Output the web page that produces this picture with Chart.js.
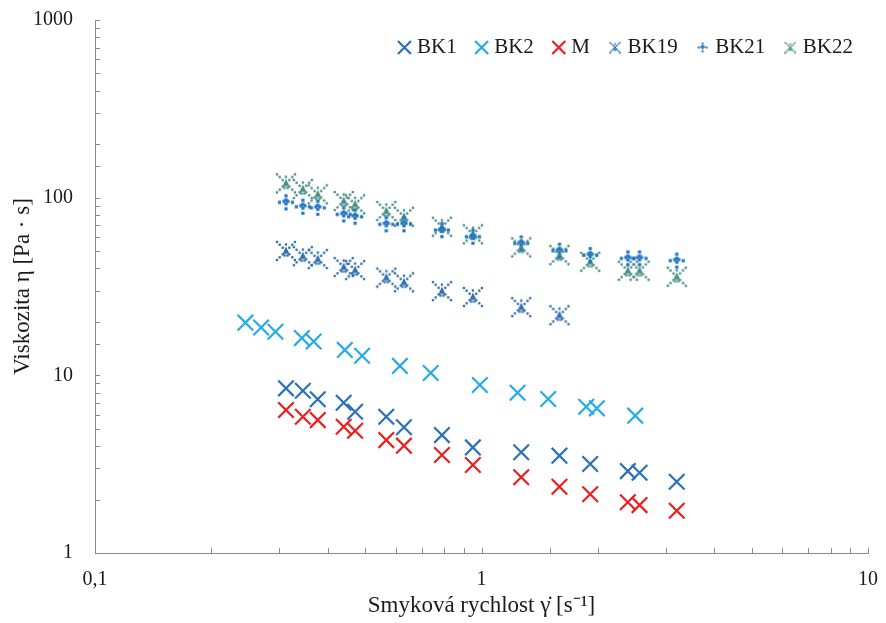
<!DOCTYPE html>
<html>
<head>
<meta charset="utf-8">
<script src="https://cdn.jsdelivr.net/npm/chart.js@4.4.1/dist/chart.umd.min.js"></script>
<style>
html, body { margin: 0; padding: 0; background: #fff; }
</style>
</head>
<body>
<canvas id="myChart" width="886" height="623"></canvas>
<script>
// shear rates [1/s]
var rate_a = [0.312, 0.345, 0.377, 0.44, 0.471, 0.567, 0.63, 0.79, 0.95, 1.267, 1.591, 1.911, 2.391, 2.564, 3.2];
var rate_b = [0.245, 0.269, 0.293, 0.343, 0.368, 0.443, 0.491, 0.615, 0.739, 0.99, 1.24, 1.488, 1.866, 1.988, 2.499];

// viscosity [Pa.s]
var bk1  = [8.45, 8.19, 7.33, 7.01, 6.24, 5.85, 5.10, 4.61, 3.93, 3.69, 3.53, 3.17, 2.89, 2.83, 2.52];
var bk2  = [19.8, 18.6, 17.6, 16.2, 15.5, 13.9, 12.9, 11.3, 10.3, 8.82, 7.98, 7.36, 6.66, 6.52, 5.93];
var m    = [6.38, 5.85, 5.60, 5.14, 4.88, 4.32, 4.02, 3.56, 3.13, 2.67, 2.36, 2.14, 1.93, 1.86, 1.73];
var bk19 = [50.1, 46.9, 45.1, 40.7, 39.1, 35.5, 33.4, 29.8, 27.6, 24.2, 21.8];
var bk21 = [94.1, 88.9, 87.7, 80.5, 78.1, 70.8, 70.8, 65.7, 60.3, 55.3, 50.3, 47.5, 45.5, 45.5, 44.2];
var bk22 = [120.4, 111.8, 104.4, 95.7, 91.7, 84.1, 78.1, 68.6, 62.2, 52.5, 47.5, 43.6, 38.8, 38.8, 35.9];

var series_names = ['BK1', 'BK2', 'M', 'BK19', 'BK21', 'BK22'];
var x_ticks = [0.1, 1, 10];
var y_ticks = [1, 10, 100, 1000];

var serif = "'Liberation Serif', 'Times New Roman', serif";

function pts(xs, ys) {
	return ys.map(function(v, i) { return {x: xs[i], y: v}; });
}

// dotted markers like the excel ones
function dotMarker(kind, color, s) {
	var c = document.createElement('canvas');
	var n = Math.round(22 * s);
	c.width = n; c.height = n;
	var g = c.getContext('2d');
	var h = n / 2;
	var r = Math.max(0.8, 1.15 * s);
	g.fillStyle = color;
	function dot(dx, dy, rr) {
		rr = rr || r;
		g.fillRect(h + dx * s - rr, h + dy * s - rr, 2 * rr, 2 * rr);
	}
	if (kind == 'x') {
		[3.3, 6.3, 9].forEach(function(d) {
			dot(d, d); dot(-d, d); dot(d, -d); dot(-d, -d);
		});
		dot(0, -6.5); dot(-1.5, 4.5); dot(1.5, 4.5);
		g.beginPath();
		g.moveTo(h, h - 4.5 * s);
		g.lineTo(h - 3.4 * s, h + 2.8 * s);
		g.lineTo(h + 3.4 * s, h + 2.8 * s);
		g.closePath();
		g.fill();
	} else {
		var rb = Math.max(1, 1.6 * s);
		dot(0, -6.5, rb); dot(0, 6.5, rb); dot(-6.5, 0, rb); dot(6.5, 0, rb);
		dot(-2, -1, rb); dot(2, -1, rb); dot(0, 1.5, rb); dot(0, -2.5, rb);
	}
	return c;
}

var c_bk1 = '#2a71b8', c_bk2 = '#25ace6', c_m = '#ee1d1d';
var c_bk19 = '#2f6fae', c_bk21 = '#2475c0', c_bk22 = '#468f82';

var big = {
	BK19: dotMarker('x', c_bk19, 1),
	BK21: dotMarker('+', c_bk21, 1),
	BK22: dotMarker('x', c_bk22, 1)
};
var small = {
	BK19: dotMarker('x', c_bk19, 0.55),
	BK21: dotMarker('+', c_bk21, 0.6),
	BK22: dotMarker('x', c_bk22, 0.55)
};

function crossSet(label, xs, ys, col) {
	return {
		label: label, data: pts(xs, ys),
		pointStyle: 'crossRot', pointRadius: 11, pointHoverRadius: 11,
		borderColor: col, backgroundColor: col, pointBorderWidth: 2.2, showLine: false
	};
}
function dotSet(label, xs, ys, col) {
	return {
		label: label, data: pts(xs, ys),
		pointStyle: big[label], pointRadius: 11, borderColor: col, backgroundColor: col, showLine: false
	};
}

// legend sits inside the plot, so keep it out of the layout
var legendInside = {
	id: 'legendInside',
	beforeInit: function(chart) {
		var lg = chart.legend;
		var fit = lg.fit;
		lg.fit = function() {
			fit.call(this);
			this._realH = this.height;
			this.height = 0;
		};
	},
	afterLayout: function(chart) {
		var lg = chart.legend;
		lg.top = 14;
		lg.height = lg._realH;
		lg.bottom = lg.top + lg._realH;
		lg.right = 876;
	}
};

// small tick marks pointing into the plot
var insideTicks = {
	id: 'insideTicks',
	afterDraw: function(chart) {
		var ctx = chart.ctx;
		var sx = chart.scales.x, sy = chart.scales.y;
		ctx.save();
		ctx.strokeStyle = '#8a8a8a';
		ctx.lineWidth = 1;
		ctx.beginPath();
		sx.ticks.forEach(function(t) {
			var p = Math.round(sx.getPixelForValue(t.value)) + 0.5;
			ctx.moveTo(p, sx.top);
			ctx.lineTo(p, sx.top - 5);
		});
		sy.ticks.forEach(function(t) {
			var p = Math.round(sy.getPixelForValue(t.value)) + 0.5;
			ctx.moveTo(sy.right, p);
			ctx.lineTo(sy.right + 5, p);
		});
		ctx.stroke();
		ctx.restore();
	}
};

function logLabel(v) {
	var all = x_ticks.concat(y_ticks);
	for (var i = 0; i < all.length; i++) {
		if (Math.abs(v - all[i]) < all[i] * 1e-6) return String(all[i]).replace('.', ',');
	}
	return '';
}

var ctx = document.getElementById('myChart');
var chart = new Chart(ctx, {
	type: 'scatter',
	data: {
		datasets: [
			crossSet('BK1', rate_a, bk1, c_bk1),
			crossSet('BK2', rate_b, bk2, c_bk2),
			crossSet('M', rate_a, m, c_m),
			dotSet('BK19', rate_a, bk19, c_bk19),
			dotSet('BK21', rate_a, bk21, c_bk21),
			dotSet('BK22', rate_a, bk22, c_bk22)
		]
	},
	options: {
		responsive: false,
		animation: false,
		layout: { padding: { left: 0, right: 18, top: 20, bottom: 0 } },
		plugins: {
			tooltip: { enabled: false },
			legend: {
				position: 'top',
				align: 'end',
				labels: {
					usePointStyle: true,
					boxWidth: 4,
					boxHeight: 13,
					padding: 23,
					color: '#1a1a1a',
					font: { family: serif, size: 21 },
					generateLabels: function(chart) {
						var items = Chart.defaults.plugins.legend.labels.generateLabels(chart);
						items.forEach(function(it) {
							if (small[it.text]) it.pointStyle = small[it.text];
							it.lineWidth = 2.2;
						});
						return items;
					}
				}
			}
		},
		scales: {
			x: {
				type: 'logarithmic',
				min: 0.1, max: 10,
				grid: { display: false, drawTicks: false },
				border: { display: true, color: '#8a8a8a', width: 1 },
				ticks: {
					autoSkip: false, maxRotation: 0, padding: 15,
					color: '#1a1a1a', font: { family: serif, size: 20 },
					callback: logLabel
				},
				title: {
					display: true, text: 'Smyková rychlost γ̇ [s⁻¹]',
					color: '#1a1a1a', font: { family: serif, size: 23 },
					padding: { top: 0, bottom: 3 }
				},
				afterFit: function(s) {
					s.height = 70;
					s.paddingLeft = 0;
					s.paddingRight = 0;
				}
			},
			y: {
				type: 'logarithmic',
				min: 1, max: 1000,
				grid: { display: false, drawTicks: false },
				border: { display: true, color: '#8a8a8a', width: 1 },
				ticks: {
					autoSkip: false, padding: 22,
					color: '#1a1a1a', font: { family: serif, size: 20 },
					callback: logLabel
				},
				title: {
					display: true, text: 'Viskozita η [Pa · s]',
					color: '#1a1a1a', font: { family: serif, size: 23 },
					padding: { top: 9, bottom: 0 }
				},
				afterFit: function(s) {
					s.width = 95;
					s.paddingTop = 0;
					s.paddingBottom = 0;
				}
			}
		}
	},
	plugins: [legendInside, insideTicks]
});
</script>
</body>
</html>
